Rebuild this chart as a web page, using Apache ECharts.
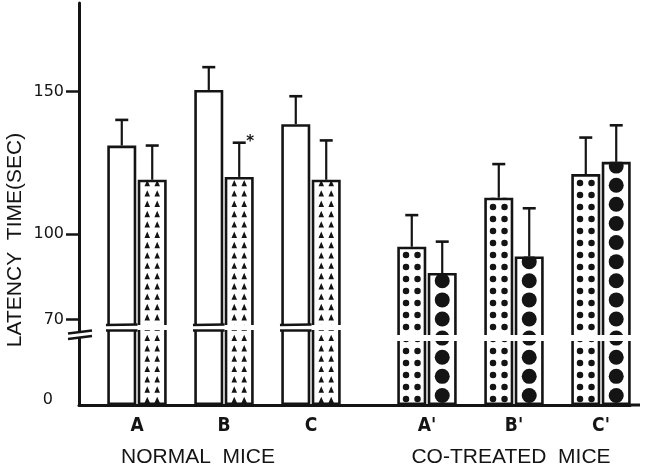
<!DOCTYPE html>
<html lang="en">
<head>
<meta charset="UTF-8" />
<title>latency time</title>
<style>
  html, body { margin: 0; padding: 0; background: #fff; }
  #main { width: 646px; height: 467px; }
</style>
<script src="https://cdn.jsdelivr.net/npm/echarts@6/dist/echarts.min.js"></script>
</head>
<body>
<div id="main"></div>
<script>
  // groups along the x axis
  const groups = ['A', 'B', 'C', "A'", "B'", "C'"];
  const cohort = ['normal', 'normal', 'normal', 'co', 'co', 'co'];
  // left bar of each pair (open / small dots), seconds
  const leftMean = [131, 150.5, 138.5, 95.5, 112.7, 121];
  const leftSem = [9, 8, 9.8, 11.1, 11.8, 12.8];
  // right bar of each pair (triangles / big dots), seconds
  const rightMean = [119, 120, 119, 86.3, 92.1, 125.3];
  const rightSem = [12, 12, 13.8, 11, 16.9, 12.8];
  const starred = [0, 1, 0, 0, 0, 0];
  // y axis: bottom of the broken axis is labelled 0
  const yTicks = [70, 100, 150];
  const axisFloor = 40;

  const INK = '#141414';
  const BW = 29;          // bar width px
  const GAP = '5%';
  const gapPx = BW * 0.05;

  // fine category slots so the two cohorts sit a little further apart
  const cats = ['', ''];
  const slotOf = [];
  groups.forEach((g, i) => {
    if (i > 0 && cohort[i] !== cohort[i - 1]) cats.push('');
    slotOf.push(cats.length);
    cats.push(g, '', '');
  });
  cats.pop();

  function spread(fn) {
    const out = cats.map(() => '-');
    slotOf.forEach((s, i) => { out[s] = fn(i); });
    return out;
  }

  const TRI = { symbol: 'path://M0,5L2.6,0L5.2,5ZM9.3,5L11.9,0L14.5,5Z', size: [15.5, 6.4], margin: '2!' };
  const SMALL = { symbol: 'path://M0,3.3A3.3,3.3,0,1,1,6.6,3.3A3.3,3.3,0,1,1,0,3.3ZM11.7,3.3A3.3,3.3,0,1,1,18.3,3.3A3.3,3.3,0,1,1,11.7,3.3Z', size: [18, 6.4], margin: '2.9!' };
  const BIG = { symbol: 'circle', size: [15, 15], margin: '2.4!' };

  function patternItem(v, p) {
    if (!p) return '-';
    return { value: v, symbol: p.symbol, symbolSize: p.size, symbolMargin: p.margin };
  }

  function errBar(offset) {
    return function (params, api) {
      const base = api.coord([api.value(0), api.value(1)]);
      const top = api.coord([api.value(0), api.value(2)]);
      const x = base[0] + offset;
      const kids = [
        { type: 'line', shape: { x1: x, y1: base[1], x2: x, y2: top[1] }, style: { stroke: INK, lineWidth: 2.2 } },
        { type: 'line', shape: { x1: x - 6.5, y1: top[1], x2: x + 6.5, y2: top[1] }, style: { stroke: INK, lineWidth: 2.6 } }
      ];
      if (api.value(3)) {
        kids.push({ type: 'text', x: x + 11, y: top[1] - 1,
          style: { text: '*', font: 'bold 15px "DejaVu Sans"', fill: INK, align: 'center', verticalAlign: 'middle' } });
      }
      return { type: 'group', children: kids };
    };
  }

  const errLeft = slotOf.map((s, i) => [s, leftMean[i], leftMean[i] + leftSem[i], 0]);
  const errRight = slotOf.map((s, i) => [s, rightMean[i], rightMean[i] + rightSem[i], starred[i]]);
  const off = BW / 2 + gapPx / 2;

  const patternSeries = {
    type: 'pictorialBar', barWidth: BW, barGap: GAP, z: 3,
    symbolRepeat: true, symbolClip: true,
    itemStyle: { color: INK }
  };

  const chart = echarts.init(document.getElementById('main'));
  chart.setOption({
    animation: false,
    backgroundColor: '#fff',
    grid: { left: 79, right: 16, top: 3, bottom: 62 },
    xAxis: {
      type: 'category',
      data: cats,
      boundaryGap: false,
      axisLine: { lineStyle: { color: INK, width: 3 } },
      axisTick: { show: false },
      axisLabel: {
        interval: 0, margin: 12, color: INK, fontSize: 19, fontWeight: 'bold',
        fontFamily: '"Liberation Sans Narrow", "DejaVu Sans Condensed", "Liberation Sans", sans-serif'
      },
      splitLine: { show: false }
    },
    yAxis: {
      type: 'value',
      min: axisFloor,
      max: 181,
      startValue: axisFloor,
      axisLine: { show: true, lineStyle: { color: INK, width: 3 } },
      axisTick: { show: true, customValues: yTicks, length: 13, lineStyle: { color: INK, width: 2.5 } },
      axisLabel: {
        customValues: [axisFloor].concat(yTicks),
        margin: 15, color: INK, fontSize: 16, fontFamily: '"DejaVu Sans", sans-serif',
        formatter: v => (v === axisFloor ? '{z|0}' : String(v)),
        rich: { z: { fontSize: 16, fontFamily: '"DejaVu Sans", sans-serif', color: INK, padding: [0, 11, 10, 0] } }
      },
      splitLine: { show: false }
    },
    series: [
      { type: 'bar', name: 'left', barWidth: BW, barGap: GAP, z: 2,
        itemStyle: { color: '#fff', borderColor: INK, borderWidth: 2.6 },
        data: spread(i => leftMean[i]) },
      { type: 'bar', name: 'right', barWidth: BW, barGap: GAP, z: 2,
        itemStyle: { color: '#fff', borderColor: INK, borderWidth: 2.6 },
        data: spread(i => rightMean[i]) },
      Object.assign({ name: 'leftPattern',
        data: spread(i => patternItem(leftMean[i], cohort[i] === 'co' ? SMALL : null)) }, patternSeries),
      Object.assign({ name: 'rightPattern',
        data: spread(i => patternItem(rightMean[i], cohort[i] === 'co' ? BIG : TRI)) }, patternSeries),
      { type: 'custom', name: 'errLeft', renderItem: errBar(-off), encode: { x: 0, y: [1, 2] }, z: 4, data: errLeft },
      { type: 'custom', name: 'errRight', renderItem: errBar(off), encode: { x: 0, y: [1, 2] }, z: 4, data: errRight }
    ]
  });

  // axis break, bar breaks and text drawn over the chart
  const py = v => chart.convertToPixel({ yAxisIndex: 0 }, v);
  const px = i => chart.convertToPixel({ xAxisIndex: 0 }, i);
  const yb = py(axisFloor);
  const x0 = px(0);
  const gfx = [];

  slotOf.forEach((s, i) => {
    const c = px(s);
    const l = c - BW - gapPx / 2 - 2;
    const r = c + BW + gapPx / 2 + 2;
    if (cohort[i] === 'normal') {
      gfx.push({ type: 'rect', z: 100, shape: { x: l, y: yb - 80, width: r - l, height: 5 }, style: { fill: '#fff' } });
      const bl = c - BW - gapPx / 2 - 1.3;
      const br = c - gapPx / 2 + 1.3;
      gfx.push({ type: 'line', z: 101, shape: { x1: bl, y1: yb - 80, x2: br, y2: yb - 80.5 }, style: { stroke: INK, lineWidth: 2.3 } });
      gfx.push({ type: 'line', z: 101, shape: { x1: bl, y1: yb - 74.5, x2: br, y2: yb - 74.5 }, style: { stroke: INK, lineWidth: 2.3 } });
    } else {
      gfx.push({ type: 'rect', z: 100, shape: { x: l, y: yb - 70, width: r - l, height: 6 }, style: { fill: '#fff' } });
    }
  });

  gfx.push({ type: 'rect', z: 100, shape: { x: x0 - 3, y: yb - 72, width: 6, height: 4 }, style: { fill: '#fff' } });
  gfx.push({ type: 'line', z: 101, shape: { x1: x0 - 11, y1: yb - 71.5, x2: x0 + 13, y2: yb - 74.5 }, style: { stroke: INK, lineWidth: 2.4 } });
  gfx.push({ type: 'line', z: 101, shape: { x1: x0 - 11, y1: yb - 66, x2: x0 + 13, y2: yb - 69 }, style: { stroke: INK, lineWidth: 2.4 } });

  // baseline runs a little past the last bar
  const xe = px(cats.length - 1);
  gfx.push({ type: 'line', z: 50, shape: { x1: xe, y1: yb, x2: xe + 10, y2: yb }, style: { stroke: INK, lineWidth: 3 } });

  gfx.push({ type: 'text', z: 101, x: 15, y: 240, rotation: Math.PI / 2,
    style: { text: 'LATENCY  TIME(SEC)', font: '21px "Liberation Sans", sans-serif', fill: INK, align: 'center', verticalAlign: 'middle' } });
  gfx.push({ type: 'text', z: 101, x: 198, y: 457,
    style: { text: 'NORMAL  MICE', font: '21px "Liberation Sans", sans-serif', fill: INK, align: 'center', verticalAlign: 'middle' } });
  gfx.push({ type: 'text', z: 101, x: 511, y: 457,
    style: { text: 'CO-TREATED  MICE', font: '21px "Liberation Sans", sans-serif', fill: INK, align: 'center', verticalAlign: 'middle' } });

  chart.setOption({ graphic: gfx });
</script>
</body>
</html>
